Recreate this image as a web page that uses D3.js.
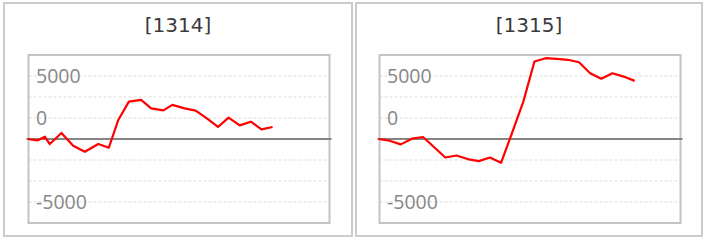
<!DOCTYPE html>
<html>
<head>
<meta charset="utf-8">
<script src="https://cdn.jsdelivr.net/npm/d3@7"></script>
<style>
  html, body { margin: 0; padding: 0; background: #fff; }
  svg { display: block; }
</style>
</head>
<body>
<script>
// data
const panelTitles = ["[1314]", "[1315]"];
const days1314 = [0, 0.9, 1.55, 2, 3.05, 4.1, 5.15, 6.35, 7.3, 8.15, 9.1, 10.2, 11.1, 12.2, 13, 14.1, 15.1, 16.1, 17.1, 18.05, 19.05, 20.05, 21, 22];
const values1314 = [0, -170, 270, -600, 720, -800, -1520, -600, -1040, 2270, 4450, 4650, 3650, 3410, 4060, 3650, 3380, 2460, 1430, 2540, 1620, 2060, 1150, 1430];
const days1315 = [0, 1, 2, 3, 4, 5, 6, 7, 8, 9, 10, 11, 12, 13, 14, 15, 16, 17, 18, 19, 20, 21, 22, 23];
const values1315 = [0, -200, -640, 40, 240, -980, -2200, -1960, -2390, -2630, -2200, -2830, 750, 4450, 9220, 9620, 9540, 9430, 9140, 7830, 7160, 7830, 7430, 6920];
const gridValues = [7500, 5000, 2500, -2500, -5000, -7500];
const tickLabels = [5000, 0, -5000];

const width = 707;
const height = 240;
const panels = [
  {x: 3, w: 350, title: panelTitles[0], days: days1314, values: values1314},
  {x: 355, w: 348, title: panelTitles[1], days: days1315, values: values1315}
];

const svg = d3.select("body").append("svg")
  .attr("width", width)
  .attr("height", height);

// same scales for both panels, only shifted
const plotW = 303;
const x = d3.scaleLinear().domain([0, 27.2]).range([0, plotW]);
const y = d3.scaleLinear().domain([-10000, 10000]).range([223, 55]);
const step = 2500;

panels.forEach(p => {
  const g = svg.append("g");
  const cx = p.x + p.w / 2;
  const left = cx - 150.5;

  // outer frame
  g.append("rect")
    .attr("x", p.x + 1)
    .attr("y", 3)
    .attr("width", p.w - 2)
    .attr("height", 233)
    .attr("fill", "#fff")
    .attr("stroke", "#cccccc")
    .attr("stroke-width", 2);

  g.append("text")
    .attr("x", cx)
    .attr("y", 32)
    .attr("text-anchor", "middle")
    .style("font-family", "'DejaVu Sans', sans-serif")
    .style("font-size", "20px")
    .attr("fill", "#3a3a3a")
    .text(p.title);

  const plot = g.append("g").attr("transform", `translate(${left},0)`);

  // dotted grid
  plot.selectAll("line.grid")
    .data(gridValues)
    .enter().append("line")
      .attr("class", "grid")
      .attr("x1", 1)
      .attr("x2", plotW - 1)
      .attr("y1", d => y(d))
      .attr("y2", d => y(d))
      .attr("stroke", "#dcdcdc")
      .attr("stroke-width", 1)
      .attr("stroke-dasharray", "3,2");

  // labels sit one grid step outward from their line
  plot.selectAll("text.tick")
    .data(tickLabels)
    .enter().append("text")
      .attr("class", "tick")
      .attr("x", 8.5)
      .attr("y", d => y(d >= 0 ? d + step : d - step) + 7)
      .style("font-family", "'Open Sans', sans-serif")
      .style("font-size", "19.5px")
      .attr("fill", "#878787")
      .text(d => d);

  // plot frame
  plot.append("rect")
    .attr("x", 1)
    .attr("y", y(10000))
    .attr("width", plotW - 2)
    .attr("height", y(-10000) - y(10000))
    .attr("fill", "none")
    .attr("stroke", "#c4c4c4")
    .attr("stroke-width", 2);

  // zero line
  plot.append("line")
    .attr("x1", -1)
    .attr("x2", plotW + 1)
    .attr("y1", y(0))
    .attr("y2", y(0))
    .attr("stroke", "#858585")
    .attr("stroke-width", 2);

  const line = d3.line()
    .x((d, i) => x(p.days[i]))
    .y(d => y(d));

  plot.append("path")
    .datum(p.values)
    .attr("d", line)
    .attr("fill", "none")
    .attr("stroke", "#ff0000")
    .attr("stroke-width", 2.2)
    .attr("stroke-linejoin", "round");
});
</script>
</body>
</html>
